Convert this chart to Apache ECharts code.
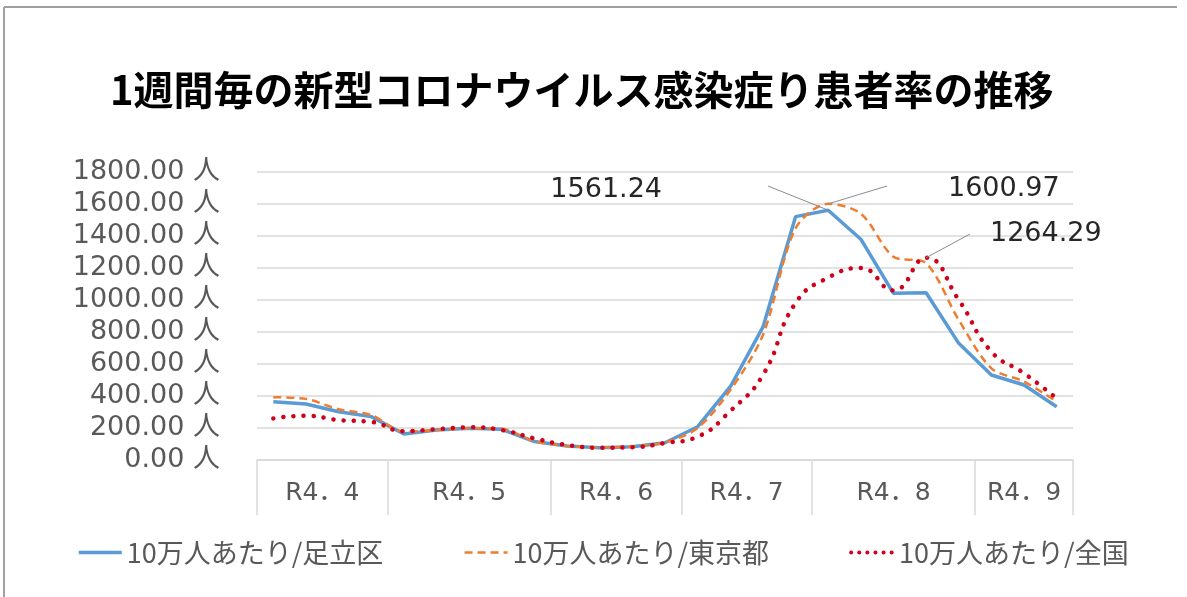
<!DOCTYPE html>
<html>
<head>
<meta charset="utf-8">
<script src="https://cdn.jsdelivr.net/npm/echarts@6/dist/echarts.min.js"></script>
<style>
html,body{margin:0;padding:0;background:#fff;}
#chart{width:1187px;height:597px;}
</style>
</head>
<body>
<div id="chart"></div>
<script>
// ---- data ----
const titleText = '1週間毎の新型コロナウイルス感染症り患者率の推移';
const months = ['R4．4', 'R4．5', 'R4．6', 'R4．7', 'R4．8', 'R4．9'];
const weeksPerMonth = [4, 5, 4, 4, 5, 3];
const seriesNames = ['10万人あたり/足立区', '10万人あたり/東京都', '10万人あたり/全国'];
const adachi = [364, 350, 302, 271, 162, 187, 198, 192, 115, 87, 77, 83, 108, 208, 458, 830, 1521, 1561.24, 1380, 1042, 1045, 729, 531, 469, 333];
const tokyo = [392, 382, 317, 281, 177, 187, 198, 195, 117, 88, 78, 84, 110, 200, 437, 781, 1448, 1600.97, 1540, 1270, 1230, 875, 573, 490, 365];
const zenkoku = [260, 277, 250, 238, 180, 192, 204, 187, 135, 94, 77, 80, 106, 146, 306, 531, 981, 1140, 1200, 1060, 1264.29, 1000, 677, 542, 385];
const yMin = 0, yMax = 1800, yStep = 200;

// ---- derived axis data ----
const weekCats = [];
months.forEach((m, i) => { for (let k = 0; k < weeksPerMonth[i]; k++) weekCats.push(m + '-' + (k + 1)); });
const nWeeks = weekCats.length;
const halfCats = new Array(nWeeks * 2 + 1).fill('');
const boundarySet = new Set([0]);
let cum = 0;
months.forEach((m, i) => {
  const start = cum * 2;
  cum += weeksPerMonth[i];
  boundarySet.add(cum * 2);
  halfCats[start + weeksPerMonth[i]] = m;
});

function peakIndex(arr) { return arr.indexOf(Math.max(...arr)); }
function withPeakLabel(arr) {
  const idx = peakIndex(arr);
  return arr.map((v, i) => i === idx ? {
    value: v, symbol: 'circle', symbolSize: 0.1,
    label: { show: true, formatter: v.toFixed(2), fontFamily: 'DejaVu Sans', fontSize: 27, color: '#262626' }
  } : v);
}

// label placement (text anchor) and leader-line end next to the label
const labelPlace = [
  { x: 662, y: 190, align: 'right', lead: [768, 186] },
  { x: 948, y: 189, align: 'left', lead: [887, 186] },
  { x: 990, y: 234, align: 'left', lead: [970, 234] }
];

const chart = echarts.init(document.getElementById('chart'), null, { renderer: 'canvas' });
const colors = ['#5b9bd5', '#ed7d31', '#d0021b'];
const allData = [adachi, tokyo, zenkoku];
const lineStyles = [
  { color: colors[0], width: 3.5 },
  { color: colors[1], width: 2.5, type: [8, 5] },
  { color: colors[2], width: 4.5, type: [0.1, 10], cap: 'round' }
];

chart.setOption({
  backgroundColor: '#ffffff',
  animation: false,
  title: {
    text: titleText,
    left: 105, top: 65,
    textStyle: { fontFamily: "'Noto Sans CJK JP'", fontWeight: 'bold', fontSize: 40, color: '#000000' }
  },
  legend: {
    left: 72, top: 534,
    itemWidth: 43, itemHeight: 14, itemGap: 80,
    itemStyle: { opacity: 0 },
    textStyle: { fontFamily: "'Noto Sans CJK JP'", fontSize: 27, color: '#595959' },
    data: seriesNames.map((n, s) => ({ name: n, lineStyle: Object.assign({}, lineStyles[s], { width: s === 2 ? 4 : lineStyles[s].width, type: s === 2 ? [0.1, 8] : lineStyles[s].type }) }))
  },
  grid: { left: 257, right: 114, top: 172, bottom: 137, containLabel: false },
  xAxis: [{
    type: 'category', data: weekCats, boundaryGap: true,
    axisLine: { show: true, lineStyle: { color: '#d9d9d9', width: 1.5 } },
    axisTick: { show: false }, axisLabel: { show: false }, splitLine: { show: false }
  }, {
    type: 'category', data: halfCats, boundaryGap: false, position: 'bottom',
    axisLine: { show: false },
    axisTick: { show: true, length: 55, interval: (i) => boundarySet.has(i), lineStyle: { color: '#d9d9d9', width: 1.5 } },
    axisLabel: { show: true, interval: 0, margin: 21, fontFamily: "'DejaVu Sans', 'Noto Sans CJK JP'", fontSize: 25, color: '#595959' },
    splitLine: { show: false }
  }],
  yAxis: {
    type: 'value', min: yMin, max: yMax, interval: yStep,
    axisLine: { show: false }, axisTick: { show: false },
    axisLabel: { margin: 37, formatter: (v) => v.toFixed(2) + ' 人', fontFamily: "'DejaVu Sans', 'Noto Sans CJK JP'", fontSize: 27, color: '#595959' },
    splitLine: { lineStyle: { color: '#d9d9d9', width: 1.5 } }
  },
  series: [0, 1, 2].map((s) => ({
    name: seriesNames[s], type: 'line', symbol: 'none',
    smooth: [false, 0.3, 0.5][s],
    lineStyle: lineStyles[s],
    itemStyle: { color: colors[s] },
    data: withPeakLabel(allData[s]),
    labelLayout: () => ({ x: labelPlace[s].x, y: labelPlace[s].y, align: labelPlace[s].align, verticalAlign: 'middle' })
  }))
});

// frame + leader lines
const graphics = [
  { type: 'line', shape: { x1: 4, y1: 7, x2: 1177, y2: 7 }, style: { stroke: '#a0a0a0', lineWidth: 2 }, silent: true },
  { type: 'line', shape: { x1: 4, y1: 7, x2: 4, y2: 597 }, style: { stroke: '#a0a0a0', lineWidth: 2 }, silent: true }
];
allData.forEach((arr, s) => {
  const idx = peakIndex(arr);
  const p = chart.convertToPixel({ xAxisIndex: 0, yAxisIndex: 0 }, [idx, arr[idx]]);
  graphics.push({
    type: 'line', silent: true, z: 10,
    shape: { x1: p[0], y1: p[1], x2: labelPlace[s].lead[0], y2: labelPlace[s].lead[1] },
    style: { stroke: '#8c8c8c', lineWidth: 1 }
  });
});
chart.setOption({ graphic: graphics });
</script>
</body>
</html>
